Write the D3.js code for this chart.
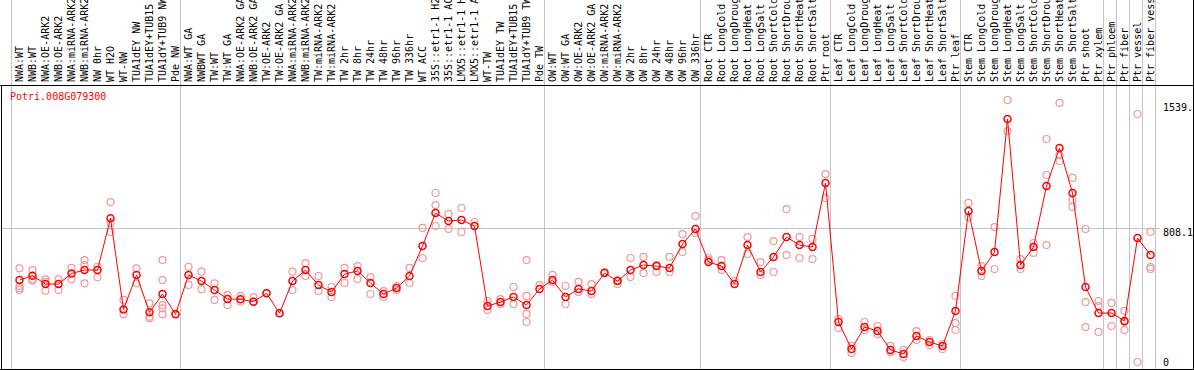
<!DOCTYPE html>
<html>
<head>
<meta charset="utf-8">
<script src="https://cdn.jsdelivr.net/npm/d3@7"></script>
<style>
  body { margin: 0; background: #fff; }
  svg { display: block; font-family: "DejaVu Sans Mono", monospace; }
</style>
</head>
<body>
<div id="chart"></div>
<script>
var WIDTH = 1194;
var HEIGHT = 370;
var LABEL_BOTTOM = 85;
var PLOT_BOTTOM = 369;
var COL = 13;

var geneName = 'Potri.008G079300';

var samples = [
  'NWA:WT', 'NWB:WT', 'NWA:OE-ARK2', 'NWB:OE-ARK2', 'NWA:miRNA-ARK2', 'NWB:miRNA-ARK2',
  'NW 0hr', 'WT H2O', 'WT-NW', 'TUA1dEY NW', 'TUA1dEY+TUB15 NW', 'TUA1dY+TUB9 NW', 'Pde NW',
  'NWA:WT GA', 'NWBWT GA', 'TW:WT', 'TW:WT GA', 'NWA:OE-ARK2 GA', 'NWB:OE-ARK2 GA',
  'TW:OE-ARK2', 'TW:OE-ARK2 GA', 'NWA:miRNA-ARK2', 'NWB:miRNA-ARK2', 'TW:miRNA-ARK2', 'TW:miRNA-ARK2',
  'TW 2hr', 'TW 8hr', 'TW 24hr', 'TW 48hr', 'TW 96hr', 'TW 336hr', 'WT ACC',
  '35S::etr1-1 H2O', '35S::etr1-1 ACC', 'LMX5::etr1-1 H2O', 'LMX5::etr1-1 ACC',
  'WT-TW', 'TUA1dEY TW', 'TUA1dEY+TUB15 TW', 'TUA1dY+TUB9 TW', 'Pde TW',
  'OW:WT', 'OW:WT GA', 'OW:OE-ARK2', 'OW:OE-ARK2 GA', 'OW:miRNA-ARK2', 'OW:miRNA-ARK2',
  'OW 2hr', 'OW 8hr', 'OW 24hr', 'OW 48hr', 'OW 96hr', 'OW 336hr',
  'Root CTR', 'Root LongCold', 'Root LongDrought', 'Root LongHeat', 'Root LongSalt',
  'Root ShortCold', 'Root ShortDrought', 'Root ShortHeat', 'Root ShortSalt', 'Ptr root',
  'Leaf CTR', 'Leaf LongCold', 'Leaf LongDrought', 'Leaf LongHeat', 'Leaf LongSalt',
  'Leaf ShortCold', 'Leaf ShortDrought', 'Leaf ShortHeat', 'Leaf ShortSalt', 'Ptr leaf',
  'Stem CTR', 'Stem LongCold', 'Stem LongDrought', 'Stem LongHeat', 'Stem LongSalt',
  'Stem ShortCold', 'Stem ShortDrought', 'Stem ShortHeat', 'Stem ShortSalt', 'Ptr shoot',
  'Ptr xylem', 'Ptr phloem', 'Ptr fiber', 'Ptr vessel', 'Ptr fiber vessel'
];

// group separators: gray line drawn before these column indices
var separators = [0, 13, 41, 53, 63, 73, 84, 85, 86, 87, 88];

var means = [
  509, 534, 486, 486, 547, 566, 566, 862, 341, 538, 324, 429, 313,
  538, 503, 452, 400, 399, 385, 433, 319, 503, 566, 480, 440,
  543, 561, 492, 429, 463, 532, 704, 892, 847, 852, 818,
  360, 383, 412, 366, 458,
  509, 412, 458, 446, 549, 503, 566, 595, 589, 578, 715, 801,
  612, 589, 486, 709, 555, 641, 755, 709, 698, 1064,
  269, 114, 240, 217, 109, 86, 189, 154, 132, 332,
  904, 561, 669, 1430, 595, 698, 1047, 1264, 1007, 469,
  320, 320, 275, 749, 652
];

var replicates = [
  [576, 475, 452, 462], [566, 505, 513], [513, 499, 448], [513, 452], [579, 513],
  [623, 595, 490], [585, 525], [955, 835, 784], [395, 313], [576, 490],
  [376, 299, 291], [623, 509, 366, 347, 313], [315],
  [585, 481], [557, 456], [490, 395], [423, 366], [418, 385], [410, 385], [433], [319],
  [557, 452], [606, 532], [532, 446], [469, 412],
  [578, 492], [589, 515], [526, 429], [446, 412], [475, 452], [578, 492], [807, 635],
  [1007, 938, 818], [887, 801], [921, 784], [841],
  [389, 337], [400, 372], [469, 372], [623, 418, 315, 269], [480],
  [538, 498], [475, 372], [498, 440], [486, 429], [555], [509, 486],
  [635, 526], [641, 549], [595, 555], [641, 555], [772, 669], [875, 778],
  [635, 623], [623, 566], [503], [755, 658], [612, 538], [732, 555], [915, 652],
  [755, 635], [744, 629], [1115, 978],
  [286, 235], [132, 92], [269, 223], [246, 200], [132, 97], [109, 69], [217, 166],
  [166, 137], [143, 114], [418, 263, 223],
  [950, 869], [589, 532], [812, 572], [1539, 1361], [629, 572], [721, 664],
  [1316, 1110, 709], [1522, 1224, 1190], [1093, 967, 927], [801, 383, 240],
  [389, 360, 212], [378, 246], [332, 269, 223], [1459, 40], [784, 583, 572]
];

var yTicks = [0, 808.1, 1539];
var yTickLabels = ['0', '808.1', '1539.'];

var svg = d3.select('#chart').append('svg')
  .attr('width', WIDTH)
  .attr('height', HEIGHT);

var x = d3.scaleBand()
  .domain(d3.range(samples.length))
  .range([COL, COL + COL * samples.length]);

var y = d3.scaleLinear()
  .domain([0, 1539])
  .range([PLOT_BOTTOM, 100]);

var cx = function (i) { return x(i) + x.bandwidth() / 2; };
var sepX = function (k) { return (k < samples.length ? x(k) : x(k - 1) + COL) - 1.5; };

// gray separators
svg.append('g').selectAll('line')
  .data(separators)
  .enter()
  .append('line')
  .attr('x1', sepX).attr('x2', sepX)
  .attr('y1', 0).attr('y2', PLOT_BOTTOM)
  .style('stroke', '#c4c4c4')
  .style('stroke-width', 1);

// horizontal reference line
svg.append('line')
  .attr('x1', 1).attr('x2', 1160)
  .attr('y1', Math.round(y(808.1)) + 0.5).attr('y2', Math.round(y(808.1)) + 0.5)
  .style('stroke', '#c4c4c4');

// frame
svg.append('line').attr('x1', 0).attr('x2', WIDTH).attr('y1', LABEL_BOTTOM + 0.5).attr('y2', LABEL_BOTTOM + 0.5).style('stroke', '#000');
svg.append('line').attr('x1', 0).attr('x2', WIDTH).attr('y1', PLOT_BOTTOM + 0.5).attr('y2', PLOT_BOTTOM + 0.5).style('stroke', '#000');
svg.append('line').attr('x1', 1.5).attr('x2', 1.5).attr('y1', LABEL_BOTTOM).attr('y2', HEIGHT).style('stroke', '#000');
svg.append('line').attr('x1', WIDTH - 0.5).attr('x2', WIDTH - 0.5).attr('y1', 0).attr('y2', HEIGHT).style('stroke', '#000');

// column labels
svg.append('g').selectAll('text')
  .data(samples)
  .enter()
  .append('text')
  .attr('transform', (d, i) => `translate(${cx(i) + 3.5},82)rotate(-90)`)
  .style('font-size', '10px')
  .style('fill', '#000')
  .text((d) => d);

// y labels on the right
svg.append('g').selectAll('text')
  .data(yTicks)
  .enter()
  .append('text')
  .attr('x', 1163)
  .attr('y', (d) => Math.min(Math.max(y(d) + 8, 111), 366))
  .style('font-size', '10px')
  .style('fill', '#000')
  .text((d, i) => yTickLabels[i]);

// gene name
svg.append('text')
  .attr('x', 10)
  .attr('y', 100)
  .style('font-size', '10px')
  .style('fill', '#ff0000')
  .text(geneName);

// replicate points
var reps = [];
replicates.forEach((r, i) => r.forEach((v) => reps.push({ i: i, v: v })));

svg.append('g').selectAll('circle')
  .data(reps)
  .enter()
  .append('circle')
  .attr('cx', (d) => cx(d.i))
  .attr('cy', (d) => y(d.v))
  .attr('r', 3.5)
  .style('fill', 'none')
  .style('stroke', '#ef9a9a')
  .style('stroke-width', 1.2);

// mean line
var line = d3.line()
  .x((d, i) => cx(i))
  .y((d) => y(d));

svg.append('path')
  .datum(means)
  .attr('d', line)
  .style('fill', 'none')
  .style('stroke', '#ff0000')
  .style('stroke-width', 1);

svg.append('g').selectAll('circle')
  .data(means)
  .enter()
  .append('circle')
  .attr('cx', (d, i) => cx(i))
  .attr('cy', (d) => y(d))
  .attr('r', 3.5)
  .style('fill', 'none')
  .style('stroke', '#ff0000')
  .style('stroke-width', 1.5);
</script>
</body>
</html>
